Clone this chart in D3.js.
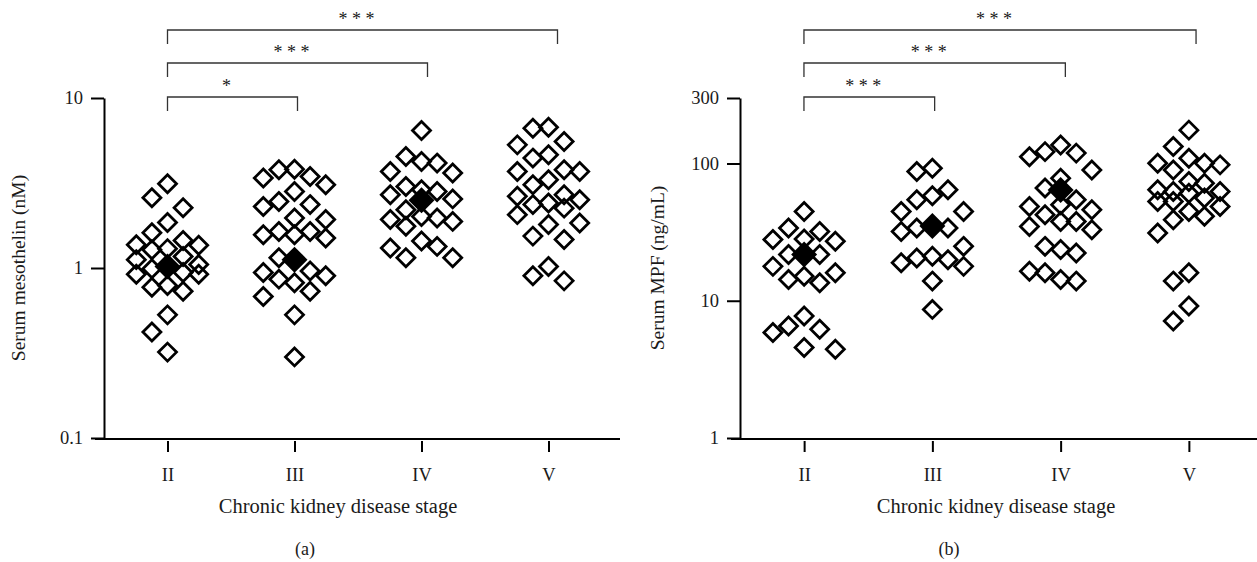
<!DOCTYPE html>
<html>
<head>
<meta charset="utf-8">
<script src="https://cdn.jsdelivr.net/npm/d3@7"></script>
<style>
  body { margin: 0; background: #fff; }
  svg { display: block; font-family: "Liberation Serif", serif; }
</style>
</head>
<body>
<svg id="chart" width="1257" height="562"></svg>
<script>
const stages = ["II", "III", "IV", "V"];

// serum mesothelin (nM), one array per CKD stage
const mesothelinII = [3.13, 2.59, 2.26, 1.85, 1.61, 1.45, 1.37, 1.36, 1.30, 1.28, 1.17, 1.12, 1.05, 1.02, 0.99, 0.94, 0.92, 0.92, 0.79, 0.77, 0.73, 0.53, 0.42, 0.32];
const mesothelinIII = [3.81, 3.78, 3.45, 3.38, 3.09, 2.82, 2.46, 2.36, 2.30, 1.97, 1.93, 1.64, 1.64, 1.57, 1.57, 1.50, 1.15, 1.10, 0.96, 0.94, 0.90, 0.86, 0.82, 0.73, 0.68, 0.53, 0.30];
const mesothelinIV = [6.43, 4.53, 4.23, 4.14, 3.70, 3.62, 3.02, 2.89, 2.82, 2.70, 2.55, 2.20, 2.01, 1.97, 1.93, 1.88, 1.76, 1.44, 1.34, 1.31, 1.15, 1.15];
const mesothelinV = [6.73, 6.64, 5.54, 5.30, 4.63, 4.43, 3.78, 3.70, 3.70, 3.30, 3.09, 2.70, 2.64, 2.52, 2.41, 2.36, 2.25, 2.06, 1.84, 1.80, 1.54, 1.47, 1.02, 0.90, 0.84];
const mesothelinCenters = [1.02, 1.12, 2.5, null];

// serum MPF (ng/mL)
const mpfII = [44.7, 33.9, 32.0, 28.2, 27.9, 27.1, 21.7, 21.7, 21.7, 17.8, 16.0, 15.1, 14.3, 13.5, 7.73, 6.54, 6.19, 5.86, 4.56, 4.43];
const mpfIII = [92.4, 87.3, 64.3, 58.2, 54.4, 44.7, 44.7, 34.8, 33.9, 33.9, 32.0, 24.9, 21.1, 20.5, 19.9, 18.9, 17.8, 13.9, 8.65];
const mpfIV = [136.5, 122, 119, 112, 89.8, 78.2, 66.2, 54.4, 50.0, 48.6, 46.0, 42.3, 37.8, 37.8, 34.8, 32.9, 24.9, 23.6, 22.3, 16.4, 16.0, 14.3, 13.9];
const mpfV = [175, 133, 109, 100.5, 100.5, 97.7, 89.8, 73.9, 71.9, 64.3, 62.5, 62.5, 60.8, 56.0, 52.9, 52.9, 48.6, 44.7, 41.2, 38.9, 31.2, 16.0, 13.9, 9.14, 7.11];
const mpfCenters = [21.7, 35, 64, null];

const mesothelinTicks = [0.1, 1, 10];
const mpfTicks = [1, 10, 100, 300];

const mesothelinBrackets = [
  { from: "II", to: "III", label: "*" },
  { from: "II", to: "IV", label: "* * *" },
  { from: "II", to: "V", label: "* * *" },
];
const mpfBrackets = [
  { from: "II", to: "III", label: "* * *" },
  { from: "II", to: "IV", label: "* * *" },
  { from: "II", to: "V", label: "* * *" },
];

const svg = d3.select("#chart");
const ink = "#1a1a1a";
const diamond = "M0,-9L9,0L0,9L-9,0Z";
const bigDiamond = "M0,-13L13,0L0,13L-13,0Z";
const slotWidth = 15.6;
const slotOrder = [0, -1, 1, -2, 2];

// greedy column layout: free centre column first, otherwise the column with most room
function swarmSlots(values, y) {
  const order = d3.range(values.length).sort((a, b) => values[b] - values[a]);
  const last = new Map();
  const slots = new Array(values.length);
  for (const i of order) {
    const py = y(values[i]);
    const room = (s) => (last.has(s) ? py - last.get(s) : Infinity);
    let pick = slotOrder.find((s) => room(s) >= 26);
    if (pick === undefined) pick = d3.greatest(slotOrder, room);
    slots[i] = pick;
    last.set(pick, py);
  }
  return slots;
}

function drawPanel(p) {
  const g = svg.append("g");
  const x = d3.scalePoint().domain(stages).range(p.xRange).padding(0.5);
  const bx = d3.scalePoint().domain(stages).range(p.bracketRange).padding(0.5);
  const y = d3.scaleLog().domain(p.yDomain).range([438, 98]);

  // x axis
  g.append("line")
    .attr("x1", p.axisLine[0]).attr("x2", p.axisLine[1])
    .attr("y1", 439).attr("y2", 439)
    .attr("stroke", "#000").attr("stroke-width", 2);

  const gx = g.append("g")
    .attr("transform", "translate(0,441)")
    .call(d3.axisBottom(x).tickSize(11).tickPadding(16).tickSizeOuter(0));
  gx.select(".domain").remove();
  gx.selectAll(".tick line").attr("stroke", "#000").attr("stroke-width", 2);
  gx.selectAll("text").attr("font-size", 18.5).attr("font-family", "Liberation Serif").attr("fill", ink);

  // y axis
  const gy = g.append("g")
    .attr("transform", `translate(${p.yAxisX},0)`)
    .call(d3.axisLeft(y).tickValues(p.yTicks).tickFormat(d3.format("~g"))
      .tickSize(13).tickPadding(8).tickSizeOuter(0));
  gy.select(".domain").attr("stroke", "#000").attr("stroke-width", 2);
  gy.selectAll(".tick line").attr("stroke", "#000").attr("stroke-width", 2);
  gy.selectAll("text").attr("font-size", 18.5).attr("font-family", "Liberation Serif").attr("fill", ink);

  // titles
  g.append("text")
    .attr("transform", `translate(${p.yLabelPos[0]},${p.yLabelPos[1]}) rotate(-90)`)
    .attr("text-anchor", "middle").attr("dy", "0.35em")
    .attr("font-size", 19.5).attr("fill", ink)
    .text(p.yLabel);
  g.append("text")
    .attr("x", p.xLabelX).attr("y", 513)
    .attr("text-anchor", "middle").attr("font-size", 20.5).attr("fill", ink)
    .text("Chronic kidney disease stage");
  g.append("text")
    .attr("x", p.tagX).attr("y", 555)
    .attr("text-anchor", "middle").attr("font-size", 18).attr("fill", ink)
    .text(p.tag);

  // points
  stages.forEach((s, k) => {
    const values = p.groups[k];
    const slots = swarmSlots(values, y);
    const gg = g.append("g").attr("class", "group");
    gg.selectAll("path.pt")
      .data(values)
      .join("path")
      .attr("class", "pt")
      .attr("d", diamond)
      .attr("transform", (d, i) => `translate(${x(s) + slots[i] * slotWidth},${y(d)})`)
      .attr("fill", "none")
      .attr("stroke", "#000")
      .attr("stroke-width", 2.8);
    if (p.centers[k] != null) {
      gg.append("path")
        .attr("d", bigDiamond)
        .attr("transform", `translate(${x(s)},${y(p.centers[k])})`)
        .attr("fill", "#000");
    }
  });

  // significance brackets
  const tierY = [97, 63, 30];
  p.brackets.forEach((b, i) => {
    const x1 = bx(b.from), x2 = bx(b.to), yy = tierY[i];
    g.append("path")
      .attr("d", `M${x1},${yy + 14}V${yy}H${x2}V${yy + 14}`)
      .attr("fill", "none").attr("stroke", "#333").attr("stroke-width", 1.3);
    g.append("text")
      .attr("x", (x1 + x2) / 2 - 6).attr("y", yy - 5)
      .attr("text-anchor", "middle").attr("font-size", 18).attr("fill", ink)
      .text(b.label);
  });
}

drawPanel({
  groups: [mesothelinII, mesothelinIII, mesothelinIV, mesothelinV],
  centers: mesothelinCenters,
  yDomain: [0.1, 10],
  yTicks: mesothelinTicks,
  yAxisX: 104,
  xRange: [104, 612],
  bracketRange: [102.5, 622.5],
  axisLine: [95, 620],
  yLabel: "Serum mesothelin (nM)",
  yLabelPos: [18, 268],
  xLabelX: 338,
  tag: "(a)",
  tagX: 305,
  brackets: mesothelinBrackets,
});

drawPanel({
  groups: [mpfII, mpfIII, mpfIV, mpfV],
  centers: mpfCenters,
  yDomain: [1, 300],
  yTicks: mpfTicks,
  yAxisX: 740,
  xRange: [740, 1253],
  bracketRange: [738.6, 1261.4],
  axisLine: [731, 1257],
  yLabel: "Serum MPF (ng/mL)",
  yLabelPos: [657, 268],
  xLabelX: 996,
  tag: "(b)",
  tagX: 949,
  brackets: mpfBrackets,
});
</script>
</body>
</html>
